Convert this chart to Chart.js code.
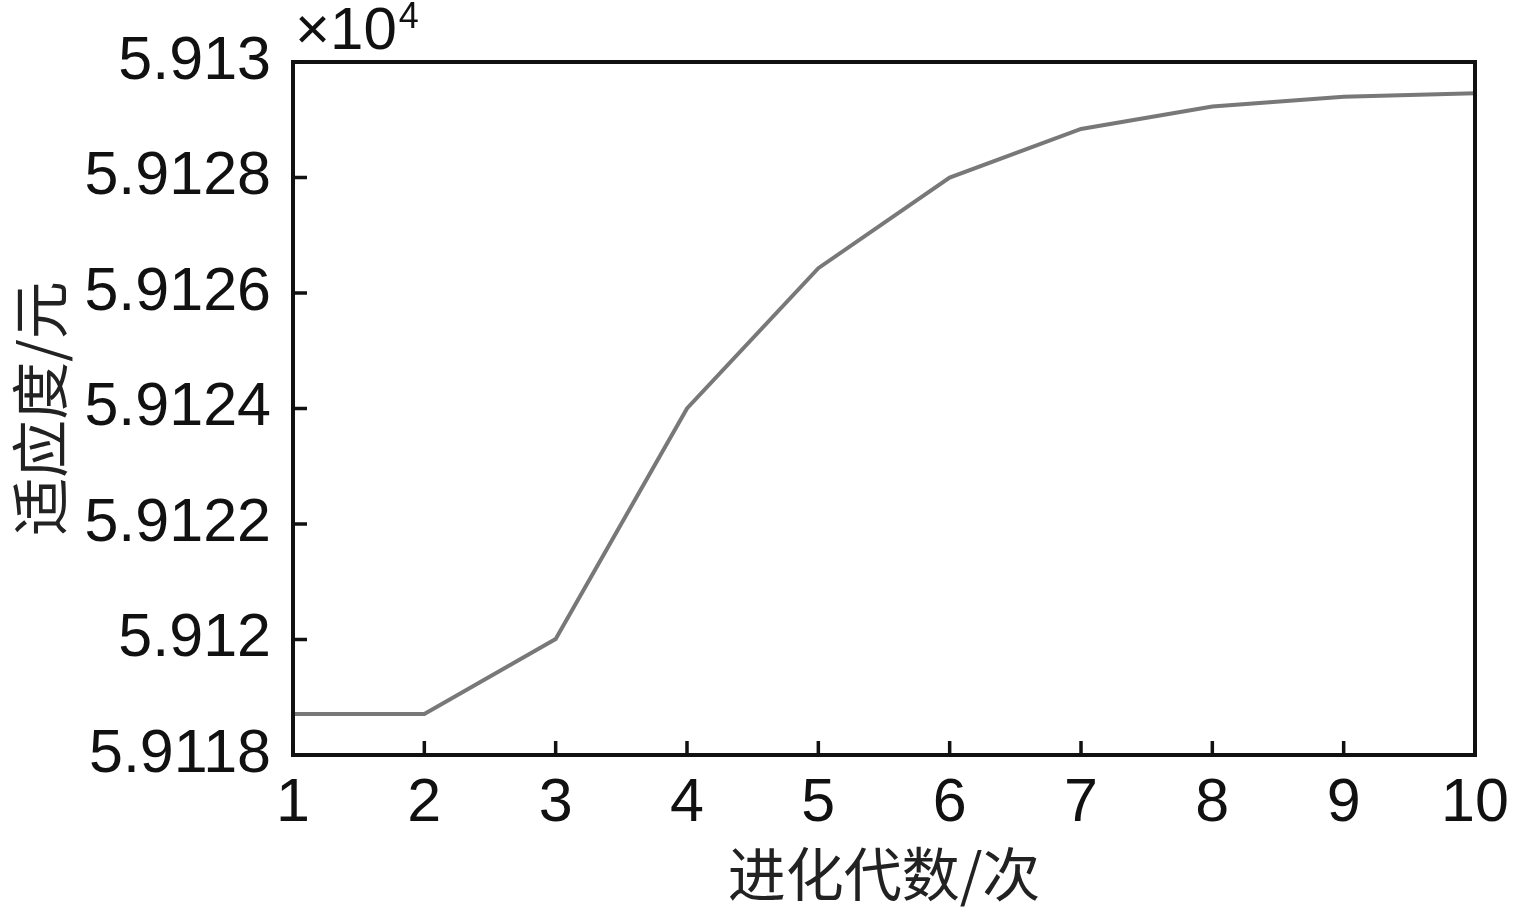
<!DOCTYPE html>
<html>
<head>
<meta charset="utf-8">
<script src="https://cdn.jsdelivr.net/npm/chart.js@4/dist/chart.umd.min.js"></script>
<style>
  html, body { margin: 0; padding: 0; background: #fff; }
  #wrap { width: 1515px; height: 909px; }
</style>
</head>
<body>
<div id="wrap"><canvas id="chart" width="1515" height="909"></canvas></div>
<script>
// Data (fitness values in units of 10^4)
const generations = [1, 2, 3, 4, 5, 6, 7, 8, 9, 10];
const fitness = [5.911871, 5.911871, 5.912001, 5.9124, 5.912643, 5.9128, 5.912884, 5.912923, 5.91294, 5.912946];
const yTicks = [5.9118, 5.912, 5.9122, 5.9124, 5.9126, 5.9128, 5.913];
const xTicks = [1, 2, 3, 4, 5, 6, 7, 8, 9, 10];

const tickFont = { family: '"Liberation Sans", Arial, sans-serif', size: 61 };
const titleFont = { family: '"Noto Sans CJK SC", sans-serif', size: 58 };

// Frame, inward tick marks and the x10^4 multiplier
const framePlugin = {
    id: 'frame',
    afterDraw(chart) {
        const { ctx, chartArea: a, scales: { x, y } } = chart;
        ctx.save();
        ctx.strokeStyle = '#111';
        ctx.lineWidth = 4;
        ctx.strokeRect(a.left, a.top, a.right - a.left, a.bottom - a.top);
        ctx.lineWidth = 3.5;
        ctx.beginPath();
        xTicks.forEach(v => {
            const px = x.getPixelForValue(v);
            ctx.moveTo(px, a.bottom);
            ctx.lineTo(px, a.bottom - 14);
        });
        yTicks.forEach(v => {
            const py = y.getPixelForValue(v);
            ctx.moveTo(a.left, py);
            ctx.lineTo(a.left + 14, py);
        });
        ctx.stroke();

        ctx.fillStyle = '#111';
        ctx.textBaseline = 'alphabetic';
        ctx.font = '60px "Liberation Sans", Arial, sans-serif';
        ctx.fillText('\u00d710', a.left + 2, 49);
        const w = ctx.measureText('\u00d710').width;
        ctx.font = '36px "Liberation Sans", Arial, sans-serif';
        ctx.fillText('4', a.left + 4 + w, 28);
        ctx.restore();
    }
};

new Chart(document.getElementById('chart'), {
    type: 'line',
    data: {
        labels: generations,
        datasets: [{
            data: generations.map((g, i) => ({ x: g, y: fitness[i] })),
            borderColor: '#787878',
            borderWidth: 4,
            pointRadius: 0,
            tension: 0,
            fill: false
        }]
    },
    options: {
        responsive: false,
        animation: false,
        layout: { padding: { left: 0, right: 40, top: 62, bottom: 0 } },
        plugins: { legend: { display: false }, tooltip: { enabled: false } },
        scales: {
            x: {
                type: 'linear',
                min: 1,
                max: 10,
                grid: { display: false, drawTicks: false },
                border: { display: false },
                afterBuildTicks(scale) { scale.ticks = xTicks.map(v => ({ value: v })); },
                afterFit(scale) {
                    scale.height = 154;
                    scale.paddingLeft = 0;
                    scale.paddingRight = 0;
                },
                ticks: {
                    color: '#111',
                    font: tickFont,
                    padding: 13,
                    maxRotation: 0,
                    autoSkip: false
                },
                title: {
                    display: true,
                    text: '进化代数/次',
                    color: '#222',
                    font: titleFont,
                    padding: { top: 0, bottom: 0 }
                }
            },
            y: {
                type: 'linear',
                min: 5.9118,
                max: 5.913,
                grid: { display: false, drawTicks: false },
                border: { display: false },
                afterBuildTicks(scale) { scale.ticks = yTicks.map(v => ({ value: v })); },
                afterFit(scale) {
                    scale.width = 293;
                    scale.paddingTop = 0;
                    scale.paddingBottom = 0;
                },
                ticks: {
                    color: '#111',
                    font: tickFont,
                    padding: 22,
                    autoSkip: false,
                    callback: v => String(parseFloat(v.toFixed(4)))
                },
                title: {
                    display: true,
                    text: '适应度/元',
                    color: '#222',
                    font: titleFont,
                    padding: { top: 5, bottom: 0 }
                }
            }
        }
    },
    plugins: [framePlugin]
});
</script>
</body>
</html>
